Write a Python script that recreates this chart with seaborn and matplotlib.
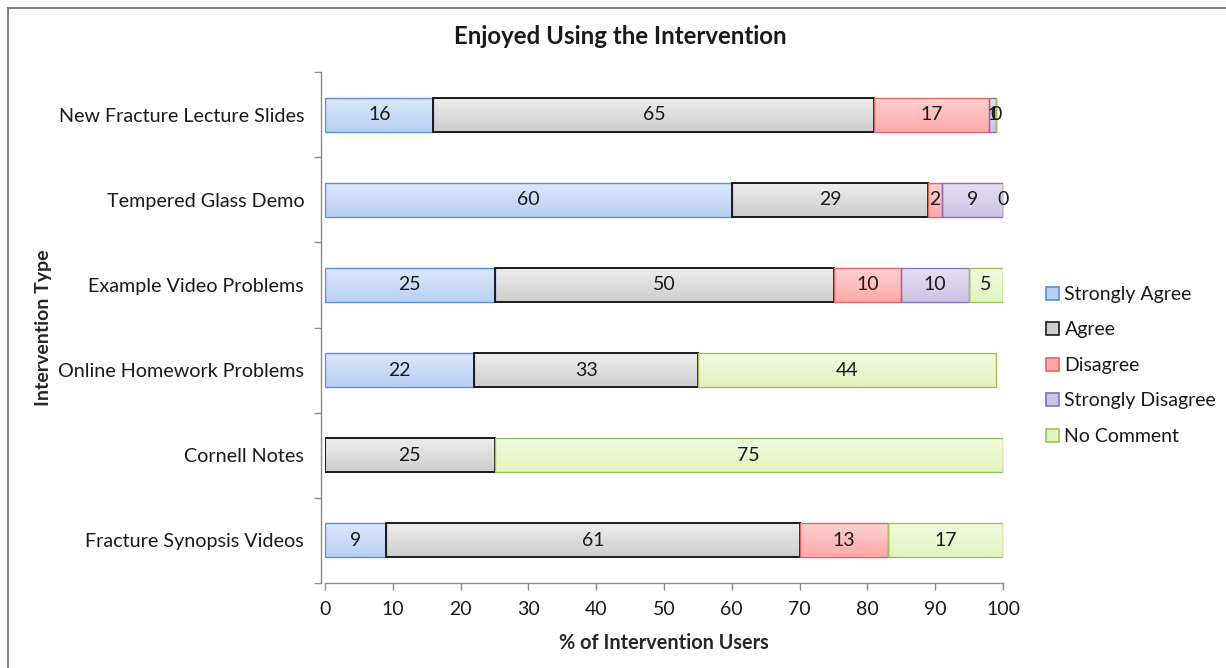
import numpy as np
import pandas as pd
import matplotlib
matplotlib.use("Agg")
import matplotlib.pyplot as plt
from matplotlib.colors import LinearSegmentedColormap
from matplotlib.patches import Rectangle
import seaborn as sns

# Survey results (% of users), one list per response level
interventions = [
    "New Fracture Lecture Slides",
    "Tempered Glass Demo",
    "Example Video Problems",
    "Online Homework Problems",
    "Cornell Notes",
    "Fracture Synopsis Videos",
]
strongly_agree = [16, 60, 25, 22, np.nan, 9]
agree = [65, 29, 50, 33, 25, 61]
disagree = [17, 2, 10, np.nan, np.nan, 13]
strongly_disagree = [1, 9, 10, np.nan, np.nan, np.nan]
no_comment = [0, 0, 5, 44, 75, 17]

responses = ["Strongly Agree", "Agree", "Disagree", "Strongly Disagree", "No Comment"]
x_ticks = [0, 10, 20, 30, 40, 50, 60, 70, 80, 90, 100]

df = pd.DataFrame({
    "Intervention": interventions,
    "Strongly Agree": strongly_agree,
    "Agree": agree,
    "Disagree": disagree,
    "Strongly Disagree": strongly_disagree,
    "No Comment": no_comment,
})

# face gradient (top, bottom), edge colour, edge width
styles = {
    "Strongly Agree": ("#dbe8fc", "#b9d0f3", "#5b8ed6", 1.0),
    "Agree": ("#eeeeee", "#cdcdcd", "#1a1a1a", 1.4),
    "Disagree": ("#ffd2d2", "#ffa9a9", "#e06666", 1.0),
    "Strongly Disagree": ("#e7e1f1", "#cec3e4", "#8a6db8", 1.0),
    "No Comment": ("#f2fbe1", "#e0f3c0", "#9bc35a", 1.0),
}

sns.set_theme(style="white")
font = ["Lato", "DejaVu Sans"]
plt.rcParams["font.family"] = font
plt.rcParams["text.color"] = "#1a1a1a"

W, H = 1226, 668
fig = plt.figure(figsize=(W / 100, H / 100), dpi=100)
ax = fig.add_axes([325 / W, 1 - 583 / H, 678 / W, 511 / H])

bar_h = 0.4
left = np.zeros(len(interventions))
grad = np.linspace(0, 1, 64).reshape(-1, 1)
for resp in responses:
    vals = df[resp].to_numpy(dtype=float)
    mask = ~np.isnan(vals)
    sub = df.loc[mask, ["Intervention", resp]]
    top_c, bot_c, edge_c, lw = styles[resp]
    sns.barplot(
        data=sub, x=resp, y="Intervention", order=interventions,
        orient="h", left=left[mask], width=bar_h,
        color=top_c, edgecolor=edge_c, linewidth=lw, saturation=1,
        errorbar=None, ax=ax, zorder=3,
    )
    cont = ax.containers[-1]
    cmap = LinearSegmentedColormap.from_list(resp, [top_c, bot_c])
    for p in cont.patches:
        x0, y0, w, h = p.get_x(), p.get_y(), p.get_width(), p.get_height()
        p.set_facecolor("none")
        im = ax.imshow(grad, cmap=cmap, aspect="auto",
                       extent=[x0, x0 + w, y0 + h, y0], zorder=2,
                       interpolation="bilinear")
        im.set_clip_path(p)
    ax.bar_label(cont, labels=[f"{v:.0f}" for v in sub[resp]],
                 label_type="center", fontsize=14, color="#1a1a1a",
                 family=font)
    left = left + np.nan_to_num(vals)

ax.set_xlim(0, 100)
ax.set_ylim(len(interventions) - 0.5, -0.5)
ax.set_xticks(x_ticks)
ax.set_xticklabels([str(t) for t in x_ticks])
ax.set_yticks(np.arange(-0.5, len(interventions) + 0.5, 1))
ax.set_yticklabels([])
ax.set_yticks(np.arange(len(interventions)), minor=True)
ax.set_yticklabels(interventions, minor=True)
ax.tick_params(axis="y", which="major", length=5, width=1, color="#8c8c8c",
               direction="out", left=True)
ax.tick_params(axis="y", which="minor", length=0, pad=12, labelsize=14.2,
               labelcolor="#1a1a1a")
ax.tick_params(axis="x", length=5, width=1, color="#8c8c8c",
               direction="out", bottom=True, pad=8, labelsize=14,
               labelcolor="#1a1a1a")

for side in ["top", "right"]:
    ax.spines[side].set_visible(False)
for side in ["left", "bottom"]:
    ax.spines[side].set_color("#8c8c8c")
    ax.spines[side].set_linewidth(1.0)
ax.spines["left"].set_position(("outward", 3))
ax.grid(False)

ax.set_xlabel("% of Intervention Users", fontsize=14.3, fontweight="bold",
              labelpad=11)
ax.set_ylabel("Intervention Type", fontsize=14, fontweight="bold")
ax.yaxis.set_label_coords((52 - 325) / 678, 0.5)

fig.text(620 / W, 1 - 37 / H, "Enjoyed Using the Intervention",
         ha="center", va="center", fontsize=17.3, fontweight="bold")

handles = [
    Rectangle((0, 0), 1, 1, facecolor=styles[r][1], edgecolor=styles[r][2],
              linewidth=1.2)
    for r in responses
]
fig.legend(handles, responses, loc="upper left",
           bbox_to_anchor=(1046 / W, 1 - 286 / H), frameon=False,
           fontsize=14, handlelength=0.65, handleheight=0.65,
           handletextpad=0.3, labelspacing=0.95, borderaxespad=0,
           borderpad=0)

# chart-area frame
fig.add_artist(Rectangle((8 / W, -0.1), 1.2, 1.1 - 8 / H,
                         transform=fig.transFigure, fill=False,
                         edgecolor="#7f7f7f", linewidth=1.5))

fig.savefig("out.png", dpi=100)
